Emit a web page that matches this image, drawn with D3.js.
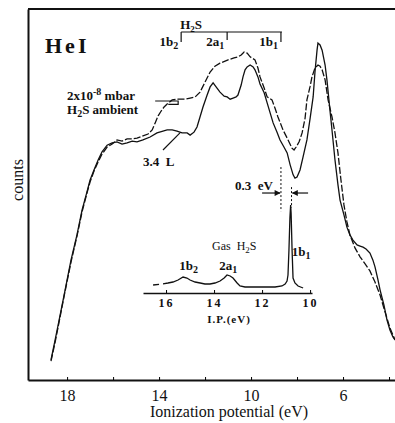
<!DOCTYPE html>
<meta charset="utf-8">
<style>
  body { margin: 0; background: #fff; }
  text { font-family: "Liberation Serif", "DejaVu Serif", serif; fill: #111; }
  .lbl { font-weight: bold; font-size: 13px; }
</style>
<div id="chart"></div>
<script src="https://d3js.org/d3.v7.min.js"></script>
<script>
// HeI spectrum after 3.4 L H2S exposure (solid) : [ionization potential eV, counts]
const exposed = [[18.70,5.4],[18.52,10.8],[18.39,14.8],[18.13,22.9],[17.83,32.3],[17.57,39.1],[17.35,45.8],[17.17,49.9],[17.00,53.9],[16.83,56.6],[16.65,59.3],[16.48,61.5],[16.26,63.3],[16.04,63.9],[15.83,64.2],[15.61,63.6],[15.39,63.9],[15.17,64.4],[14.96,64.2],[14.70,64.7],[14.39,65.5],[14.09,66.6],[13.83,67.1],[13.65,67.4],[13.43,67.4],[13.22,67.1],[13.00,66.6],[12.78,66.6],[12.65,66.0],[12.48,66.8],[12.35,68.2],[12.22,70.9],[12.09,73.6],[11.91,76.8],[11.78,79.0],[11.65,80.1],[11.48,78.7],[11.35,77.6],[11.17,76.5],[11.04,76.3],[10.91,75.7],[10.78,76.0],[10.65,76.3],[10.57,76.8],[10.43,79.5],[10.35,81.7],[10.26,83.6],[10.17,84.4],[10.04,84.9],[9.91,84.4],[9.83,83.6],[9.70,81.7],[9.61,79.8],[9.43,77.4],[9.30,74.7],[9.17,72.0],[9.04,69.3],[8.87,66.8],[8.74,64.7],[8.57,62.8],[8.43,61.2],[8.30,58.0],[8.17,55.3],[8.09,54.4],[8.00,54.7],[7.87,56.6],[7.74,60.1],[7.57,64.7],[7.43,70.6],[7.30,76.3],[7.22,83.0],[7.13,88.9],[7.09,90.8],[7.00,90.3],[6.91,88.9],[6.78,84.9],[6.70,80.9],[6.57,72.8],[6.48,67.4],[6.35,59.3],[6.22,52.6],[6.13,48.5],[5.96,44.5],[5.83,41.2],[5.70,39.1],[5.57,37.7],[5.39,36.4],[5.26,36.1],[5.13,35.8],[5.00,35.3],[4.83,34.2],[4.70,32.3],[4.61,30.5],[4.48,27.0],[4.39,24.3],[4.22,20.2],[4.09,16.2],[3.96,13.5],[3.83,11.6],[3.74,10.8]];

// HeI spectrum in 2x10-8 mbar H2S ambient (dashed)
const ambient = [[18.70,5.1],[18.52,10.2],[18.39,14.3],[18.13,22.6],[17.83,31.8],[17.57,38.8],[17.35,45.3],[17.17,49.6],[17.00,53.4],[16.83,56.3],[16.65,58.8],[16.48,60.9],[16.26,62.8],[16.04,63.6],[15.83,64.7],[15.61,64.4],[15.39,65.0],[15.17,65.0],[14.96,65.2],[14.70,65.8],[14.48,66.3],[14.30,67.4],[14.17,69.3],[14.04,71.2],[13.91,72.5],[13.78,73.6],[13.65,74.4],[13.43,75.5],[13.17,75.7],[12.87,75.7],[12.65,76.0],[12.43,76.3],[12.22,77.6],[12.00,80.3],[11.78,83.0],[11.57,84.6],[11.35,85.4],[11.00,86.3],[10.74,86.8],[10.57,87.1],[10.43,87.6],[10.30,88.4],[10.17,88.1],[10.04,87.1],[9.83,86.3],[9.70,84.1],[9.61,81.7],[9.43,78.7],[9.30,76.3],[9.09,75.5],[8.96,73.3],[8.83,70.9],[8.61,67.4],[8.39,64.7],[8.22,62.5],[8.13,62.0],[8.04,62.8],[7.91,64.2],[7.78,66.6],[7.65,70.6],[7.57,75.5],[7.43,79.2],[7.35,81.7],[7.22,84.1],[7.09,84.9],[7.00,84.6],[6.91,83.6],[6.78,80.9],[6.65,75.5],[6.48,70.9],[6.35,66.6],[6.22,61.2],[6.09,53.9],[5.96,47.2],[5.83,42.6],[5.70,39.1],[5.48,35.6],[5.26,33.2],[5.04,31.3],[4.83,29.4],[4.61,26.4],[4.39,22.9],[4.17,18.3],[3.96,14.0],[3.74,10.8]];

// inset: gas phase H2S spectrum
const gas = [[16.54,8],[16.17,9],[15.92,10],[15.71,11],[15.50,13],[15.29,16],[15.13,15],[15.00,13],[14.79,11],[14.58,10],[14.38,9],[14.17,9],[13.96,10],[13.75,12],[13.58,15],[13.46,18],[13.33,17],[13.21,15],[13.04,10],[12.92,7],[12.71,6],[12.08,6],[11.46,6],[11.17,7],[11.04,9],[10.96,12],[10.92,18],[10.88,43],[10.84,75],[10.81,88],[10.79,80],[10.75,43],[10.71,15],[10.63,10],[10.50,7],[10.29,5]];

const xTicks = [18, 14, 10, 6];
const xMinor = [18, 16, 14, 12, 10, 8, 6, 4];
const insetTicks = [16, 14, 12, 10];
// gas-phase H2S levels marked on top bracket (eV on main scale)
const levels = [{name: "1b", sub: "2", ev: 13.04}, {name: "2a", sub: "1", ev: 11.04}, {name: "1b", sub: "1", ev: 8.70}];

const W = 395, H = 423;
const svg = d3.select("#chart").append("svg").attr("width", W).attr("height", H);

const x = d3.scaleLinear().domain([19.7, 3.74]).range([28, 395]);
const y = d3.scaleLinear().domain([0, 100]).range([380, 9]);
const xi = d3.scaleLinear().domain([16.96, 9.92]).range([143, 312]);
const yi = d3.scaleLinear().domain([0, 100]).range([293, 193]);

// frame
svg.append("line").attr("x1", x.range()[0]).attr("x2", W).attr("y1", y(100)).attr("y2", y(100))
  .attr("stroke", "#111").attr("stroke-width", 2);
svg.append("g").attr("transform", `translate(${x.range()[0]},0)`)
  .call(d3.axisLeft(y).tickValues([]).tickSizeOuter(0))
  .select(".domain").attr("stroke", "#111").attr("stroke-width", 2);

const xAxis = svg.append("g").attr("transform", `translate(0,${y(0)})`)
  .call(d3.axisBottom(x).tickValues(xMinor).tickSizeInner(-3).tickSizeOuter(0)
    .tickPadding(10).tickFormat(d => xTicks.includes(d) ? d : ""));
xAxis.select(".domain").attr("stroke", "#111").attr("stroke-width", 2);
xAxis.selectAll("text").attr("font-size", 16).attr("font-family", "Liberation Serif").attr("fill", "#111");

svg.append("text").attr("x", 229).attr("y", 417).attr("text-anchor", "middle")
  .attr("font-size", 16).text("Ionization potential (eV)");
svg.append("text").attr("transform", "translate(23,180) rotate(-90)").attr("text-anchor", "middle")
  .attr("font-size", 16).text("counts");

svg.append("text").attr("x", 45).attr("y", 53).attr("font-size", 22).attr("font-weight", "bold")
  .attr("letter-spacing", 3).text("HeI");

// curves
const line = d3.line().x(d => x(d[0])).y(d => y(d[1])).curve(d3.curveLinear);
svg.append("path").datum(ambient).attr("d", line).attr("fill", "none")
  .attr("stroke", "#111").attr("stroke-width", 1.3).attr("stroke-dasharray", "7,2");
svg.append("path").datum(exposed).attr("d", line).attr("fill", "none")
  .attr("stroke", "#111").attr("stroke-width", 1.3);

// labels for curves
const t1 = svg.append("text").attr("class", "lbl").attr("x", 67).attr("y", 100).attr("font-size", 14);
t1.append("tspan").text("2x10");
t1.append("tspan").attr("dy", -5).attr("font-size", 10).text("-8");
t1.append("tspan").attr("dy", 5).text(" mbar");
const t2 = svg.append("text").attr("class", "lbl").attr("x", 67).attr("y", 114).attr("font-size", 14);
t2.append("tspan").text("H");
t2.append("tspan").attr("dy", 3).attr("font-size", 10).text("2");
t2.append("tspan").attr("dy", -3).text("S ambient");
svg.append("path").attr("d", d3.line()([[x(14.17), y(75.2)], [x(13.17), y(75.2)], [x(13.17), y(74.3)], [x(13.6), y(74.3)]]))
  .attr("fill", "none").attr("stroke", "#111").attr("stroke-width", 1.2);

svg.append("text").attr("class", "lbl").attr("x", 143).attr("y", 166).attr("xml:space", "preserve").text("3.4  L");
svg.append("line").attr("x1", x(13.83)).attr("y1", y(62.0)).attr("x2", x(13.09)).attr("y2", y(66.6))
  .attr("stroke", "#111").attr("stroke-width", 1.2);

// H2S level bracket
const bTop = y(93.8), bBot = y(91.1);
svg.append("line").attr("x1", x(levels[0].ev)).attr("x2", x(levels[2].ev) + 1).attr("y1", bTop).attr("y2", bTop)
  .attr("stroke", "#111").attr("stroke-width", 1.2);
svg.selectAll(".ltick").data(levels).join("line")
  .attr("x1", d => x(d.ev)).attr("x2", d => x(d.ev))
  .attr("y1", bTop).attr("y2", (d, i) => i === 1 ? bBot - 2 : bBot)
  .attr("stroke", "#111").attr("stroke-width", 1.2);
const lt = svg.selectAll(".ltxt").data(levels).join("text").attr("class", "lbl")
  .attr("x", d => x(d.ev) - 3).attr("y", 46).attr("text-anchor", "end");
lt.append("tspan").text(d => d.name);
lt.append("tspan").attr("dy", 3).attr("font-size", 10).text(d => d.sub);
const th = svg.append("text").attr("class", "lbl").attr("x", x(levels[0].ev) - 1).attr("y", 29);
th.append("tspan").text("H");
th.append("tspan").attr("dy", 3).attr("font-size", 9).text("2");
th.append("tspan").attr("dy", -3).text("S");

// 0.3 eV shift marker
const dot = {stroke: "#111", "stroke-width": 1, "stroke-dasharray": "2,2"};
const vl1 = svg.append("line").attr("x1", x(8.70)).attr("x2", x(8.70)).attr("y1", y(57.4)).attr("y2", y(45.5));
const vl2 = svg.append("line").attr("x1", x(8.24)).attr("x2", x(8.24)).attr("y1", y(52.0)).attr("y2", y(46.5));
[vl1, vl2].forEach(l => Object.entries(dot).forEach(([k, v]) => l.attr(k, v)));
svg.append("defs").append("marker").attr("id", "ah").attr("viewBox", "0 0 10 10").attr("refX", 9).attr("refY", 5)
  .attr("markerWidth", 6).attr("markerHeight", 5).attr("orient", "auto")
  .append("path").attr("d", "M0,0L10,5L0,10z").attr("fill", "#111");
svg.append("line").attr("x1", x(9.52)).attr("x2", x(8.74)).attr("y1", y(50.4)).attr("y2", y(50.4))
  .attr("stroke", "#111").attr("stroke-width", 1.2).attr("marker-end", "url(#ah)");
svg.append("line").attr("x1", x(7.52)).attr("x2", x(8.20)).attr("y1", y(50.4)).attr("y2", y(50.4))
  .attr("stroke", "#111").attr("stroke-width", 1.2).attr("marker-end", "url(#ah)");
svg.append("text").attr("class", "lbl").attr("x", 235).attr("y", 190).attr("xml:space", "preserve").text("0.3  eV");

// inset
const iAxis = svg.append("g").attr("transform", `translate(0,${yi(0)})`)
  .call(d3.axisBottom(xi).tickValues(insetTicks).tickSizeInner(-3).tickSizeOuter(0).tickPadding(5)
    .tickFormat(d3.format("d")));
iAxis.select(".domain").attr("stroke", "#111").attr("stroke-width", 1.3);
iAxis.selectAll("text").attr("font-size", 12).attr("font-weight", "bold").attr("letter-spacing", 2)
  .attr("font-family", "Liberation Serif").attr("fill", "#111");
svg.append("text").attr("x", 229).attr("y", 323).attr("text-anchor", "middle").attr("font-size", 11)
  .attr("font-weight", "bold").attr("letter-spacing", 1).text("I.P.(eV)");
const li = d3.line().x(d => xi(d[0])).y(d => yi(d[1]));
svg.append("path").datum(gas).attr("d", li).attr("fill", "none").attr("stroke", "#111")
  .attr("stroke-width", 1.3).attr("stroke-dasharray", "6,4,2000");

const tg = svg.append("text").attr("x", 212).attr("y", 250).attr("font-size", 12).attr("xml:space", "preserve");
tg.append("tspan").text("Gas  H");
tg.append("tspan").attr("dy", 3).attr("font-size", 9).text("2");
tg.append("tspan").attr("dy", -3).text("S");
function subLabel(txt, sub, px, py) {
  const t = svg.append("text").attr("class", "lbl").attr("x", px).attr("y", py);
  t.append("tspan").text(txt);
  t.append("tspan").attr("dy", 3).attr("font-size", 10).text(sub);
}
subLabel("1b", "2", xi(15.45), 270);
subLabel("2a", "1", xi(13.78), 270);
subLabel("1b", "1", xi(10.76), 256);
</script>
